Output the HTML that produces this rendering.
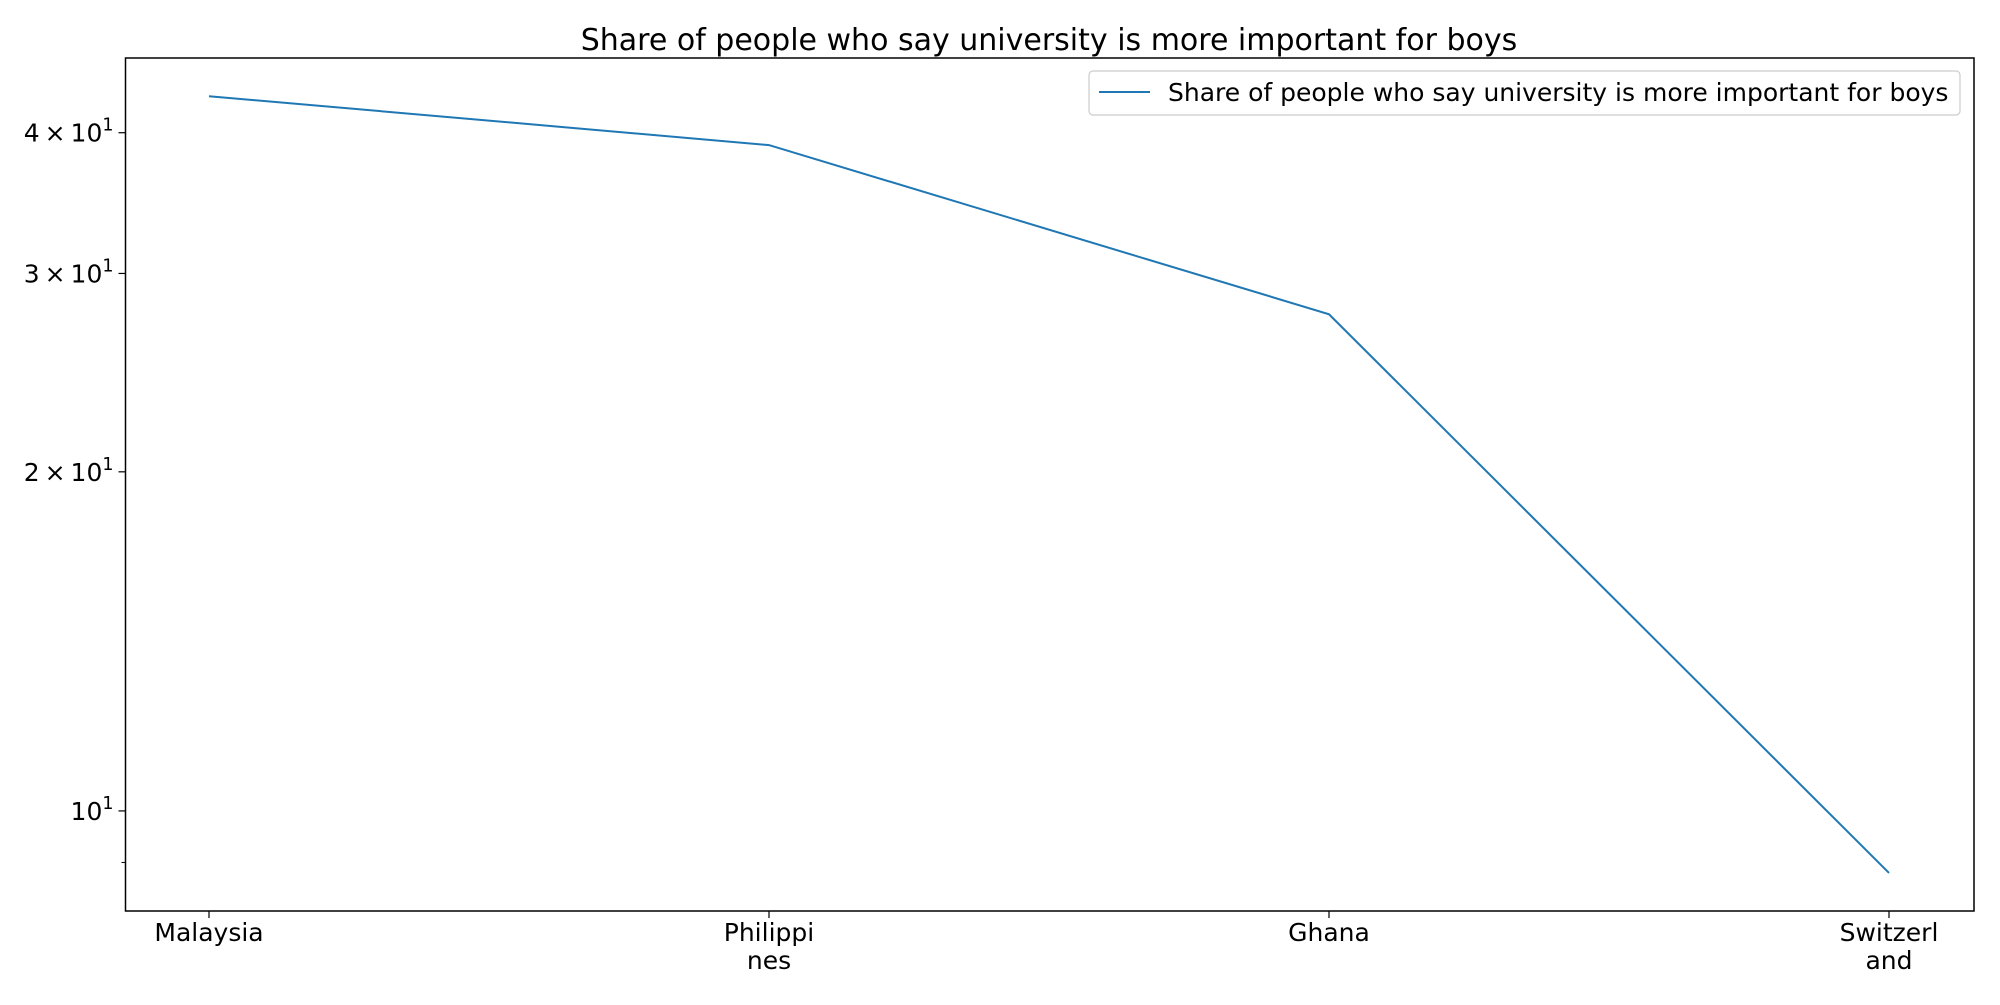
<!DOCTYPE html>
<html><head><meta charset="utf-8"><style>
html,body{margin:0;padding:0;background:#fff;}
svg text{font-family:"DejaVu Sans","Liberation Sans",sans-serif;fill:#000;}
</style></head><body>
<svg width="2000" height="1000" viewBox="0 0 2000 1000" xmlns="http://www.w3.org/2000/svg">
<text x="1049" y="50" font-size="30" text-anchor="middle">Share of people who say university is more important for boys</text>
<g id="plot"></g>
<rect x="125.5" y="58" width="1848.5" height="853" fill="none" stroke="#000" stroke-width="1.5"/>
<g>
<rect x="1089" y="71" width="871" height="44" rx="4" fill="#fff" stroke="#ccc" stroke-width="1.2"/>
<line x1="1099" y1="92" x2="1150" y2="92" stroke="#1f77b4" stroke-width="2"/>
<text x="1168" y="101" font-size="25">Share of people who say university is more important for boys</text>
</g>
</svg>
<script>
const categories=["Malaysia","Philippines","Ghana","Switzerland"];
const catLabels=[["Malaysia"],["Philippi","nes"],["Ghana"],["Switzerl","and"]];
const values=[43.1,39.0,27.6,8.81];
const majorTicks=[10,20,30,40];
const majorLabels=[["10","1"],["2\u2009×\u200910","1"],["3\u2009×\u200910","1"],["4\u2009×\u200910","1"]];
const minorTicks=[9];
const ns="http://www.w3.org/2000/svg";
const L=125.5,R=1974,T=58,B=911,yMin=8.15,yMax=46.6,x0=209,x1=1889;
const xS=i=>x0+(x1-x0)*i/(categories.length-1);
const yS=v=>B-(Math.log10(v)-Math.log10(yMin))/(Math.log10(yMax)-Math.log10(yMin))*(B-T);
const g=document.getElementById('plot');
function mk(t,a){const e=document.createElementNS(ns,t);for(const k in a)e.setAttribute(k,a[k]);g.appendChild(e);return e;}
majorTicks.forEach((v,i)=>{const y=yS(v);
 const tk=mk('line',{x1:L-7,x2:L,y1:y,y2:y,stroke:'#000','stroke-width':1.2});
 
 
 const t=mk('text',{x:L-12,y:y+9,'font-size':25,'text-anchor':'end'});
 
 
 t.innerHTML=majorLabels[i][0]+'<tspan dy="-11" font-size="17.5">'+majorLabels[i][1]+'</tspan>';
});
minorTicks.forEach(v=>{const y=yS(v);
 const tk=mk('line',{x1:L-4,x2:L,y1:y,y2:y,stroke:'#000','stroke-width':1});
 
 
});
categories.forEach((c,i)=>{const x=xS(i);
 const tk=mk('line',{x1:x,x2:x,y1:B,y2:B+7,stroke:'#000','stroke-width':1.2});
 
 
 catLabels[i].forEach((s,j)=>{const t=mk('text',{x:x,y:B+30+j*28,'font-size':25,'text-anchor':'middle'});
  
  
  t.textContent=s;});
});
const pl=mk('polyline',{points:values.map((v,i)=>xS(i)+','+yS(v)).join(' '),fill:'none',stroke:'#1f77b4','stroke-width':2});


</script>
</body></html>
